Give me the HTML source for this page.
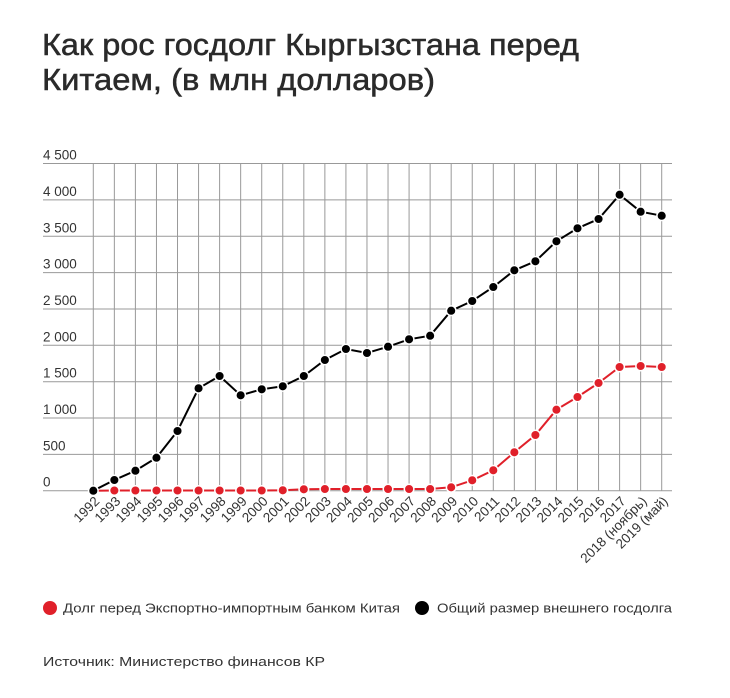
<!DOCTYPE html>
<html><head><meta charset="utf-8"><style>
html,body{margin:0;padding:0;background:#fff;}
svg{display:block;font-family:"Liberation Sans","DejaVu Sans",sans-serif;}
</style></head><body>
<svg width="730" height="698" viewBox="0 0 730 698" xmlns="http://www.w3.org/2000/svg">
<rect width="730" height="698" fill="#fff"/>
<text x="42" y="55" font-size="31" fill="#2a2a2a" stroke="#2a2a2a" stroke-width="0.5" textLength="537" lengthAdjust="spacingAndGlyphs">Как рос госдолг Кыргызстана перед</text>
<text x="42" y="90" font-size="31" fill="#2a2a2a" stroke="#2a2a2a" stroke-width="0.5" textLength="393" lengthAdjust="spacingAndGlyphs">Китаем, (в  млн долларов)</text>
<g stroke="#999" stroke-width="1">
<line x1="43" x2="672" y1="163.5" y2="163.5"/>
<line x1="43" x2="672" y1="199.9" y2="199.9"/>
<line x1="43" x2="672" y1="236.3" y2="236.3"/>
<line x1="43" x2="672" y1="272.6" y2="272.6"/>
<line x1="43" x2="672" y1="309" y2="309"/>
<line x1="43" x2="672" y1="345.3" y2="345.3"/>
<line x1="43" x2="672" y1="381.7" y2="381.7"/>
<line x1="43" x2="672" y1="418" y2="418"/>
<line x1="43" x2="672" y1="454.35" y2="454.35"/>
<line x1="43" x2="672" y1="490.7" y2="490.7"/>
<line x1="93.3" x2="93.3" y1="163.5" y2="491"/>
<line x1="114.35" x2="114.35" y1="163.5" y2="491"/>
<line x1="135.4" x2="135.4" y1="163.5" y2="491"/>
<line x1="156.46" x2="156.46" y1="163.5" y2="491"/>
<line x1="177.51" x2="177.51" y1="163.5" y2="491"/>
<line x1="198.56" x2="198.56" y1="163.5" y2="491"/>
<line x1="219.61" x2="219.61" y1="163.5" y2="491"/>
<line x1="240.66" x2="240.66" y1="163.5" y2="491"/>
<line x1="261.72" x2="261.72" y1="163.5" y2="491"/>
<line x1="282.77" x2="282.77" y1="163.5" y2="491"/>
<line x1="303.82" x2="303.82" y1="163.5" y2="491"/>
<line x1="324.87" x2="324.87" y1="163.5" y2="491"/>
<line x1="345.92" x2="345.92" y1="163.5" y2="491"/>
<line x1="366.97" x2="366.97" y1="163.5" y2="491"/>
<line x1="388.03" x2="388.03" y1="163.5" y2="491"/>
<line x1="409.08" x2="409.08" y1="163.5" y2="491"/>
<line x1="430.13" x2="430.13" y1="163.5" y2="491"/>
<line x1="451.18" x2="451.18" y1="163.5" y2="491"/>
<line x1="472.23" x2="472.23" y1="163.5" y2="491"/>
<line x1="493.29" x2="493.29" y1="163.5" y2="491"/>
<line x1="514.34" x2="514.34" y1="163.5" y2="491"/>
<line x1="535.39" x2="535.39" y1="163.5" y2="491"/>
<line x1="556.44" x2="556.44" y1="163.5" y2="491"/>
<line x1="577.49" x2="577.49" y1="163.5" y2="491"/>
<line x1="598.55" x2="598.55" y1="163.5" y2="491"/>
<line x1="619.6" x2="619.6" y1="163.5" y2="491"/>
<line x1="640.65" x2="640.65" y1="163.5" y2="491"/>
<line x1="661.7" x2="661.7" y1="163.5" y2="491"/>
</g>
<g font-size="13.5" fill="#333">
<text x="43" y="159.5">4 500</text>
<text x="43" y="195.9">4 000</text>
<text x="43" y="232.3">3 500</text>
<text x="43" y="268.6">3 000</text>
<text x="43" y="305">2 500</text>
<text x="43" y="341.3">2 000</text>
<text x="43" y="377.7">1 500</text>
<text x="43" y="414">1 000</text>
<text x="43" y="450.35">500</text>
<text x="43" y="486.7">0</text>
</g>
<g font-size="13.5" fill="#333" text-anchor="end">
<text x="100.3" y="502" transform="rotate(-45 100.3 502)">1992</text>
<text x="121.35" y="502" transform="rotate(-45 121.35 502)">1993</text>
<text x="142.4" y="502" transform="rotate(-45 142.4 502)">1994</text>
<text x="163.46" y="502" transform="rotate(-45 163.46 502)">1995</text>
<text x="184.51" y="502" transform="rotate(-45 184.51 502)">1996</text>
<text x="205.56" y="502" transform="rotate(-45 205.56 502)">1997</text>
<text x="226.61" y="502" transform="rotate(-45 226.61 502)">1998</text>
<text x="247.66" y="502" transform="rotate(-45 247.66 502)">1999</text>
<text x="268.72" y="502" transform="rotate(-45 268.72 502)">2000</text>
<text x="289.77" y="502" transform="rotate(-45 289.77 502)">2001</text>
<text x="310.82" y="502" transform="rotate(-45 310.82 502)">2002</text>
<text x="331.87" y="502" transform="rotate(-45 331.87 502)">2003</text>
<text x="352.92" y="502" transform="rotate(-45 352.92 502)">2004</text>
<text x="373.97" y="502" transform="rotate(-45 373.97 502)">2005</text>
<text x="395.03" y="502" transform="rotate(-45 395.03 502)">2006</text>
<text x="416.08" y="502" transform="rotate(-45 416.08 502)">2007</text>
<text x="437.13" y="502" transform="rotate(-45 437.13 502)">2008</text>
<text x="458.18" y="502" transform="rotate(-45 458.18 502)">2009</text>
<text x="479.23" y="502" transform="rotate(-45 479.23 502)">2010</text>
<text x="500.29" y="502" transform="rotate(-45 500.29 502)">2011</text>
<text x="521.34" y="502" transform="rotate(-45 521.34 502)">2012</text>
<text x="542.39" y="502" transform="rotate(-45 542.39 502)">2013</text>
<text x="563.44" y="502" transform="rotate(-45 563.44 502)">2014</text>
<text x="584.49" y="502" transform="rotate(-45 584.49 502)">2015</text>
<text x="605.55" y="502" transform="rotate(-45 605.55 502)">2016</text>
<text x="626.6" y="502" transform="rotate(-45 626.6 502)">2017</text>
<text x="647.65" y="502" transform="rotate(-45 647.65 502)">2018 (ноябрь)</text>
<text x="668.7" y="502" transform="rotate(-45 668.7 502)">2019 (май)</text>
</g>
<polyline fill="none" stroke="#e0202a" stroke-width="2" points="93.3,490.7 114.35,490.5 135.4,490.5 156.46,490.5 177.51,490.5 198.56,490.5 219.61,490.5 240.66,490.5 261.72,490.5 282.77,490.3 303.82,489.3 324.87,489 345.92,489 366.97,489 388.03,489 409.08,489 430.13,489 451.18,487.3 472.23,480.3 493.29,470.3 514.34,452.3 535.39,435 556.44,409.7 577.49,397 598.55,383 619.6,367 640.65,366 661.7,367"/>
<polyline fill="none" stroke="#000" stroke-width="2" points="93.3,490.7 114.35,480 135.4,470.7 156.46,457.7 177.51,431 198.56,388.3 219.61,376 240.66,395.3 261.72,389.3 282.77,386.3 303.82,376 324.87,360 345.92,349 366.97,353 388.03,346.7 409.08,339.3 430.13,335.7 451.18,310.7 472.23,301 493.29,287 514.34,270.3 535.39,261.3 556.44,241.3 577.49,228.3 598.55,219 619.6,194.7 640.65,211.7 661.7,215.7"/>
<g fill="#e0202a" stroke="#fff" stroke-width="1.5">
<circle cx="114.35" cy="490.5" r="4.8"/><circle cx="135.4" cy="490.5" r="4.8"/><circle cx="156.46" cy="490.5" r="4.8"/><circle cx="177.51" cy="490.5" r="4.8"/><circle cx="198.56" cy="490.5" r="4.8"/><circle cx="219.61" cy="490.5" r="4.8"/><circle cx="240.66" cy="490.5" r="4.8"/><circle cx="261.72" cy="490.5" r="4.8"/><circle cx="282.77" cy="490.3" r="4.8"/><circle cx="303.82" cy="489.3" r="4.8"/><circle cx="324.87" cy="489" r="4.8"/><circle cx="345.92" cy="489" r="4.8"/><circle cx="366.97" cy="489" r="4.8"/><circle cx="388.03" cy="489" r="4.8"/><circle cx="409.08" cy="489" r="4.8"/><circle cx="430.13" cy="489" r="4.8"/><circle cx="451.18" cy="487.3" r="4.8"/><circle cx="472.23" cy="480.3" r="4.8"/><circle cx="493.29" cy="470.3" r="4.8"/><circle cx="514.34" cy="452.3" r="4.8"/><circle cx="535.39" cy="435" r="4.8"/><circle cx="556.44" cy="409.7" r="4.8"/><circle cx="577.49" cy="397" r="4.8"/><circle cx="598.55" cy="383" r="4.8"/><circle cx="619.6" cy="367" r="4.8"/><circle cx="640.65" cy="366" r="4.8"/><circle cx="661.7" cy="367" r="4.8"/>
</g>
<g fill="#000" stroke="#fff" stroke-width="1.5">
<circle cx="93.3" cy="490.7" r="4.8"/><circle cx="114.35" cy="480" r="4.8"/><circle cx="135.4" cy="470.7" r="4.8"/><circle cx="156.46" cy="457.7" r="4.8"/><circle cx="177.51" cy="431" r="4.8"/><circle cx="198.56" cy="388.3" r="4.8"/><circle cx="219.61" cy="376" r="4.8"/><circle cx="240.66" cy="395.3" r="4.8"/><circle cx="261.72" cy="389.3" r="4.8"/><circle cx="282.77" cy="386.3" r="4.8"/><circle cx="303.82" cy="376" r="4.8"/><circle cx="324.87" cy="360" r="4.8"/><circle cx="345.92" cy="349" r="4.8"/><circle cx="366.97" cy="353" r="4.8"/><circle cx="388.03" cy="346.7" r="4.8"/><circle cx="409.08" cy="339.3" r="4.8"/><circle cx="430.13" cy="335.7" r="4.8"/><circle cx="451.18" cy="310.7" r="4.8"/><circle cx="472.23" cy="301" r="4.8"/><circle cx="493.29" cy="287" r="4.8"/><circle cx="514.34" cy="270.3" r="4.8"/><circle cx="535.39" cy="261.3" r="4.8"/><circle cx="556.44" cy="241.3" r="4.8"/><circle cx="577.49" cy="228.3" r="4.8"/><circle cx="598.55" cy="219" r="4.8"/><circle cx="619.6" cy="194.7" r="4.8"/><circle cx="640.65" cy="211.7" r="4.8"/><circle cx="661.7" cy="215.7" r="4.8"/>
</g>
<circle cx="50" cy="608" r="7" fill="#e0202a"/>
<text x="63" y="612.5" font-size="13" fill="#333" textLength="337" lengthAdjust="spacingAndGlyphs">Долг перед Экспортно-импортным банком Китая</text>
<circle cx="422" cy="608" r="7" fill="#000"/>
<text x="437" y="612.5" font-size="13" fill="#333" textLength="235" lengthAdjust="spacingAndGlyphs">Общий размер внешнего госдолга</text>
<text x="43" y="666" font-size="13" fill="#333" textLength="282" lengthAdjust="spacingAndGlyphs">Источник: Министерство финансов КР</text>
</svg>
</body></html>
